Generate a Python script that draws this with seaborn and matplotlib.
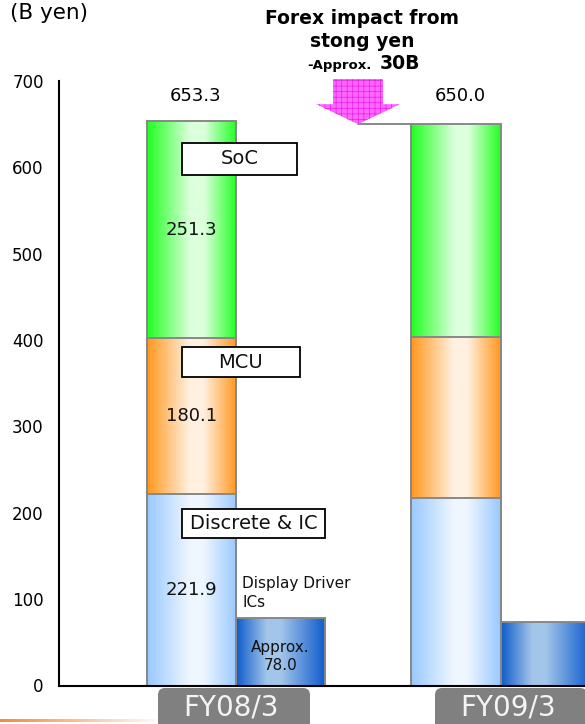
import numpy as np
import pandas as pd
import matplotlib
matplotlib.use("Agg")
import matplotlib.pyplot as plt
import seaborn as sns
from matplotlib.patches import Rectangle, FancyBboxPatch, FancyArrow
from matplotlib.colors import to_rgb, LinearSegmentedColormap

# data (B yen)
periods = ["FY08/3", "FY09/3"]
discrete_ic = [221.9, 217.0]
mcu = [180.1, 187.0]
soc = [251.3, 246.0]
totals = [653.3, 650.0]
display_ics = [78.0, 74.0]
forex_impact = "-Approx."
forex_value = "30B"

sns.set_style("white")
plt.rcParams["font.family"] = ["DejaVu Sans"]
plt.rcParams["hatch.linewidth"] = 0.5

W, H = 585, 724
fig = plt.figure(figsize=(W / 100, H / 100), dpi=100)
ax = fig.add_axes([59 / W, 1 - 685.5 / H, 1 - 59 / W, (685.5 - 81) / H])

# pixel -> data helpers (layout only)
X0, XS, Y0, YS = 236.0, 264.5, 685.5, (685.5 - 81) / 700


def px_x(x):
    return (x - X0) / XS


def px_y(y):
    return (Y0 - y) / YS


group_w = 0.673
colors = {
    "soc": ("#22ff22", "#dcffdc", 0.56),
    "mcu": ("#ff9820", "#fff0e0", 0.55),
    "disc": ("#99c9ff", "#eef6ff", 0.55),
    "display": ("#0f5ccc", "#a2c5ea", 0.42),
}


def gradient(edge, center, peak, n=80):
    t = np.linspace(0, 1, n)
    w = np.interp(t, [0, peak - 0.08, peak + 0.08, 1], [0, 1, 1, 0])
    e, c = np.array(to_rgb(edge)), np.array(to_rgb(center))
    return (e[None, :] * (1 - w[:, None]) + c[None, :] * w[:, None])[None, :, :]


layers = [
    ("soc", totals, display_ics),
    ("mcu", list(np.add(discrete_ic, mcu)), [0, 0]),
    ("disc", discrete_ic, [0, 0]),
]
for name, main_vals, disp_vals in layers:
    df = pd.DataFrame({
        "period": periods * 2,
        "kind": ["main"] * 2 + ["display"] * 2,
        "value": list(main_vals) + list(disp_vals),
    })
    n0 = len(ax.patches)
    sns.barplot(data=df, x="period", y="value", hue="kind", hue_order=["main", "display"],
                width=group_w, dodge=True, legend=False, errorbar=None, saturation=1, ax=ax)
    for p in ax.patches[n0:]:
        if p.get_height() <= 0:
            p.set_visible(False)
            continue
        cx = p.get_x() + p.get_width() / 2
        seg = name if cx < round(cx) else "display"
        edge, center, peak = colors[seg]
        im = ax.imshow(gradient(edge, center, peak),
                       extent=[p.get_x(), p.get_x() + p.get_width(), p.get_y(), p.get_y() + p.get_height()],
                       aspect="auto", interpolation="bilinear", zorder=1.5)
        im.set_clip_path(p)
        p.set_facecolor("none")
        p.set_edgecolor("#888888")
        p.set_linewidth(1.4)
        p.set_zorder(2)

ax.set_xlim(px_x(59), px_x(585))
ax.set_ylim(0, 700)
ax.set_yticks(range(0, 701, 100))
ax.tick_params(axis="y", direction="in", length=5, width=1.2, labelsize=12, pad=11, colors="black")
ax.tick_params(axis="x", length=0, labelbottom=False)
ax.set_xlabel("")
ax.set_ylabel("")
for s in ["top", "right"]:
    ax.spines[s].set_visible(False)
for s in ["left", "bottom"]:
    ax.spines[s].set_color("black")
    ax.spines[s].set_linewidth(1.5)

# value labels
main_x = -group_w / 4
disp_x = group_w / 4
for i, t in enumerate(totals):
    ax.text(i + main_x + 0.015, 683, f"{t:.1f}", ha="center", va="center", fontsize=13,
            color="black", clip_on=False)
seg_bottoms = [0, discrete_ic[0], discrete_ic[0] + mcu[0]]
for b, v in zip(seg_bottoms, [discrete_ic[0], mcu[0], soc[0]]):
    ax.text(main_x, b + v / 2, f"{v:.1f}", ha="center", va="center", fontsize=13, color="#111", zorder=3)
ax.text(disp_x, px_y(656.5), f"Approx.\n{display_ics[0]:.1f}", ha="center", va="center",
        fontsize=11, linespacing=1.25, color="#111", zorder=3)
ax.text(px_x(242), px_y(593), "Display Driver\nICs", ha="left", va="center",
        fontsize=11, linespacing=1.35, color="#111", zorder=3)

# segment name boxes
boxes = [("SoC", 182, 297, 143, 175), ("MCU", 182, 300, 347, 377), ("Discrete & IC", 182, 325, 509, 538)]
for label, x0, x1, y0, y1 in boxes:
    ax.add_patch(Rectangle((px_x(x0), px_y(y1)), px_x(x1) - px_x(x0), px_y(y0) - px_y(y1),
                           facecolor="white", edgecolor="black", lw=1.3, zorder=4))
    ax.text((px_x(x0) + px_x(x1)) / 2, (px_y(y0) + px_y(y1)) / 2, label, ha="center", va="center",
            fontsize=14, color="#111", zorder=5)

# forex arrow
tip_x = px_x(358)
arrow_top = px_y(79)
ax.add_patch(FancyArrow(tip_x, arrow_top, 0, totals[1] - arrow_top, width=50 / XS,
                        head_width=84 / XS, head_length=20 / YS, length_includes_head=True,
                        facecolor="#ff66ff", edgecolor="#e81ee8", hatch="+++", lw=0,
                        clip_on=False, zorder=5))
ax.plot([tip_x, 1 - group_w / 2], [totals[1], totals[1]], color="#888888", lw=1.4, zorder=2)

# titles
fig.text(10 / W, 1 - 13 / H, "(B yen)", fontsize=15.5, ha="left", va="center", color="black")
fig.text(362 / W, 1 - 18.5 / H, "Forex impact from", fontsize=13.5, weight="bold", ha="center",
         va="center", color="black")
fig.text(362 / W, 1 - 41.7 / H, "stong yen", fontsize=13.5, weight="bold", ha="center",
         va="center", color="black")
fig.text(339 / W, 1 - 69 / H, forex_impact, fontsize=9.5, weight="bold", ha="center",
         va="baseline", color="black")
fig.text(400 / W, 1 - 69 / H, forex_value, fontsize=13.5, weight="bold", ha="center",
         va="baseline", color="black")

# category label boxes
for label, (bx, tx) in zip(periods, [(158, 231), (435, 508)]):
    fig.add_artist(FancyBboxPatch((bx / 100, (H - 745) / 100), 1.52, 0.57,
                                  boxstyle="round,pad=0,rounding_size=0.07",
                                  transform=fig.dpi_scale_trans, facecolor="#808080",
                                  edgecolor="none", zorder=3))
    fig.text(tx / W, 1 - 707 / H, label, fontsize=20, color="#f4f4f4", ha="center", va="center", zorder=4)

# decorative line at the bottom
lax = fig.add_axes([0, 1 - 722 / H, 165 / W, 3 / H])
lax.imshow(np.linspace(0, 1, 100)[None, :], aspect="auto",
           cmap=LinearSegmentedColormap.from_list("fade", ["#f28c3c", "#ffffff"]))
lax.axis("off")

fig.savefig("out.png", dpi=100)
